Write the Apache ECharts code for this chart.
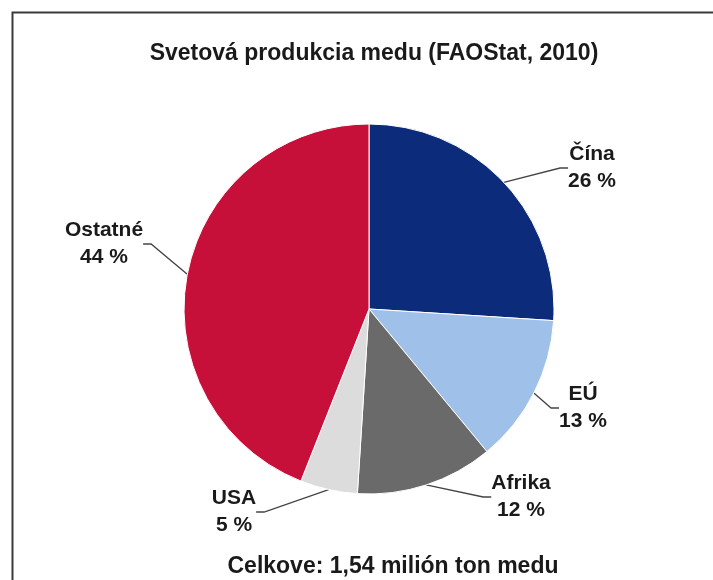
<!DOCTYPE html>
<html>
<head>
<meta charset="utf-8">
<script src="https://cdn.jsdelivr.net/npm/echarts@6/dist/echarts.min.js"></script>
<style>
  html, body { margin: 0; padding: 0; background: #ffffff; }
  #chart { width: 713px; height: 580px; }
</style>
</head>
<body>
<div id="chart"></div>
<script>
// World honey production by region, share in percent
const regions = ['Čína', 'EÚ', 'Afrika', 'USA', 'Ostatné'];
const shares = [26, 13, 12, 5, 44];
const sliceColors = ['#0c2b7a', '#9fc0e9', '#6a6a6a', '#dcdcdc', '#c6103a'];
const titleText = 'Svetová produkcia medu (FAOStat, 2010)';
const footerText = 'Celkove: 1,54 milión ton medu';

// where each two-line label block sits (centre of the text block)
const labelSpots = [[592, 168], [583, 408], [521, 497], [234, 512], [104, 244]];

const chart = echarts.init(document.getElementById('chart'), null, { renderer: 'canvas' });

chart.setOption({
  backgroundColor: '#ffffff',
  animation: false,
  title: [
    {
      text: titleText,
      left: 369, top: 49, textAlign: 'center', textVerticalAlign: 'middle',
      textStyle: { fontFamily: 'Liberation Sans, Arial, sans-serif', fontWeight: 'bold', fontSize: 23, color: '#1a1a1a' }
    },
    {
      text: footerText,
      left: 388, top: 562, textAlign: 'center', textVerticalAlign: 'middle',
      textStyle: { fontFamily: 'Liberation Sans, Arial, sans-serif', fontWeight: 'bold', fontSize: 23, color: '#1a1a1a' }
    }
  ],
  graphic: [
    {
      type: 'rect', left: 10, top: 10, z: -1, silent: true,
      shape: { width: 760, height: 640 },
      style: { fill: 'none', stroke: '#3a3a3a', lineWidth: 2 }
    }
  ],
  series: [
    {
      type: 'pie',
      center: [369, 309],
      radius: 185,
      startAngle: 90,
      clockwise: true,
      avoidLabelOverlap: false,
      data: regions.map((name, i) => ({
        name: name,
        value: shares[i],
        itemStyle: { color: sliceColors[i] }
      })),
      itemStyle: { borderColor: '#ffffff', borderWidth: 1 },
      label: {
        show: true,
        formatter: p => p.name + '\n' + p.value + ' %',
        fontFamily: 'Liberation Sans, Arial, sans-serif',
        fontWeight: 'bold',
        fontSize: 21,
        lineHeight: 27,
        color: '#1a1a1a',
        align: 'center'
      },
      labelLine: {
        show: true,
        length: 20,
        length2: 8,
        lineStyle: { color: '#444444', width: 1.3 }
      },
      labelLayout: p => ({
        x: labelSpots[p.dataIndex][0],
        y: labelSpots[p.dataIndex][1],
        align: 'center',
        verticalAlign: 'middle'
      })
    }
  ]
});
</script>
</body>
</html>
